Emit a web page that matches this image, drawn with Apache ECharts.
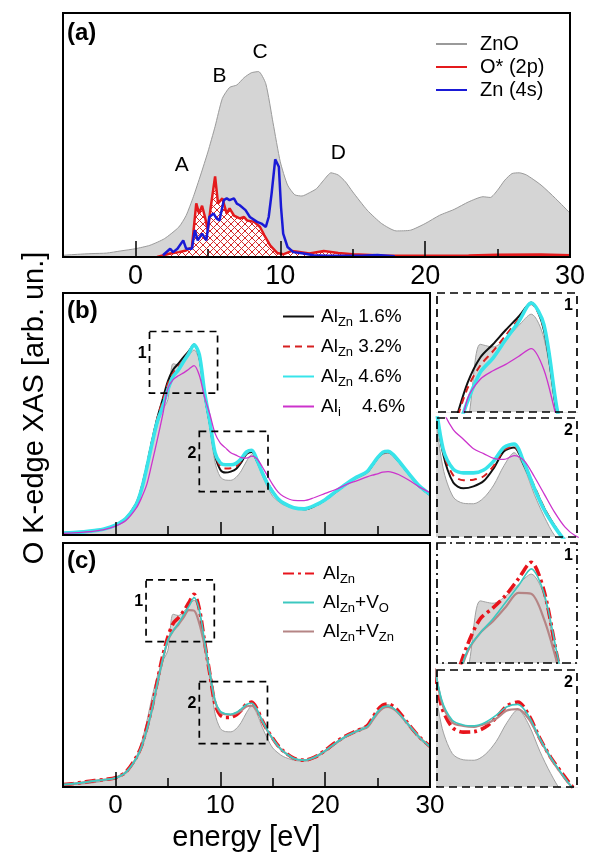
<!DOCTYPE html>
<html>
<head>
<meta charset="utf-8">
<script src="https://cdn.jsdelivr.net/npm/echarts@6/dist/echarts.min.js"></script>
<style>
  html, body { margin: 0; padding: 0; background: #fff; }
  #chart { width: 595px; height: 855px; }
</style>
</head>
<body>
<div id="chart"></div>
<script>
var FONT = '"Liberation Sans", Arial, Helvetica, sans-serif';

// ---- panel (a) data ----
var aEnergy = [-5,-4,-3,-2,-1,0,1,2,3,3.5,4,4.5,5,5.5,6,6.5,7,7.5,8,8.5,9,9.5,10,10.5,11,11.5,12,12.5,13,13.5,14,14.5,15,16,17,18,19,20,21,22,23,24,24.5,25,25.5,26,26.5,27,28,29,30];
var aZnO = [0.7,1.1,1.4,1.6,2.5,3.4,4.8,7.5,12.3,17,24.7,33.6,43,53.5,65,69.5,70.5,73.5,75.5,76,71,55,39,29.5,25.5,25,26.3,28,31.5,34.5,33.6,30.8,26.7,19.2,13.7,10.7,11,13.7,17.1,19.5,22.6,24.7,24.4,27.4,31.5,34.2,34.5,33.6,29.5,24,18];
var o2pEnergy = [1.5,2.4,3.0,3.5,3.9,4.2,4.4,4.6,4.8,5.0,5.2,5.5,5.7,6.0,6.3,6.5,6.8,7.2,7.5,7.7,8.2,8.6,8.9,9.3,9.8,10.2,10.8,11.2,12,13,14,15,17,20,23,25,28,30];
var o2p = [0,1.4,2,2.7,4,22,17.8,21,16.4,11,20.5,33,22,24,17.8,19.9,17,15.8,16.4,15,14.4,12.3,8.9,4.8,1.6,1.1,2.5,2.2,1.4,2.5,1.6,1.1,0.6,0.5,0.6,0.9,1.0,0.7];
var zn4sEnergy = [1.9,2.4,2.6,2.9,3.3,3.5,3.9,4.1,4.3,4.6,4.9,5.1,5.4,5.6,5.8,6.1,6.3,6.5,6.8,7.0,7.2,7.6,7.9,8.4,8.7,9.0,9.2,9.4,9.65,9.9,10.05,10.2,10.5,10.9,11.6,12.3,13.2,15.6,16.7,17.9];
var zn4s = [0.7,3.4,2,3.4,6.8,3.4,3.4,11,6.8,9.6,6.8,16.4,17.8,15.8,15,23.3,24,23.3,24,21.9,21.2,19.2,16.4,14.4,13.7,12.3,16.4,26,40,37,20.5,9.6,4.1,2,1.4,0.7,0.5,0.5,0.8,0.3];
var peakNames = ['A','B','C','D'];
var peakE = [3.2, 5.8, 8.6, 14.0];
var peakY = [37.7, 74, 84, 42.7];

// ---- panels (b), (c) data ----
var energy = [-5,-4,-3,-2,-1,0,1,2,2.5,3,3.5,4,4.5,5,5.5,6,6.5,7,7.5,8,8.5,9,9.5,10,10.5,11,11.5,12,12.5,13,13.5,14,14.5,15,15.5,16,17,18,19,20,21,22,23,24,24.5,25,25.5,26,26.5,27,28,29,30];
var zno = [0.8,1.0,1.3,1.8,2.6,4.0,6.5,12.5,18.5,27,37,45.5,51.5,56,70.8,70.3,71.8,74.3,76.5,72,57.5,44.5,30,24,22.7,22.6,23.8,26.5,30.5,33.2,30,24.5,19.8,16,14,12.5,11,10.5,11.8,14.3,17.5,20.5,23.3,25.5,28.3,31.3,33.3,33.8,32.5,30,24.8,19.6,16.3];
var alZn16 = [0.8,1.0,1.3,1.8,2.6,4.1,6.9,13.1,19.5,28.5,39,48.5,56,63.5,68.3,70.8,73.5,76,78.7,73.5,58,46,33,27,25.8,26.2,27.3,30,33.5,34.3,30.5,26,21.5,18,15,13.3,11.3,10.6,12,14.5,17.8,21,23.8,26,28.8,31.8,33.8,34.3,33,30.5,25.2,20,16.6];
var alZn32 = [0.8,1.0,1.3,1.8,2.6,4.1,6.9,13.3,19.8,29,39.2,48.3,55.5,62.5,66.8,69.5,72.5,75.5,78.4,73.8,58.3,46.3,33.5,28.5,27.5,27.6,28.3,30.5,33.8,34.5,30.8,26.2,21.6,18,15,13.3,11.3,10.7,12,14.5,17.8,21,23.8,26,28.8,31.8,33.8,34.3,33,30.5,25.2,20,16.6];
var alZn46 = [0.8,1.0,1.3,1.8,2.6,4.1,6.8,12.8,19,28,38,47,53,60,65.5,68.2,71.7,75,78.6,74.5,59,47,34,29.8,29,29,29.6,31.5,34.3,35,31,25.8,21.2,17.8,15,13.3,11.3,10.8,12.2,14.6,17.9,21.1,23.9,26.2,29,32,34.2,34.6,33.2,30.7,25.3,20.2,16.8];
var alI46 = [0.7,0.9,1.2,1.6,2.3,3.7,6.0,11.2,15.5,21,30,39.5,49.5,60.5,64.2,65.8,67,68.5,70,66,57,50,42,38,36,34,33,32,31.8,32.6,31.5,28.2,24.5,20.8,17.8,16,14.3,14.2,15.5,17.2,18.8,20.8,22.4,24,24.7,25.3,26,26.2,25.8,25,22.6,19.8,17.5];
var alZn = [1.0,1.4,2.0,2.6,3.1,3.8,6.2,12.3,17,24.5,33,43.5,53.5,61.5,67,69.3,72,75.5,79,73,59.5,46.5,34,29.5,28.5,28.6,29.5,31.5,34,34.8,32,27.2,23.2,20,17,14.8,11.8,11,12.2,15,18.3,21,23,25,28.2,31.5,33.6,34,33,31,25.5,20.5,16.7];
var alZnVO = [1.0,1.4,1.9,2.5,3.0,3.7,6.0,11.8,16.5,23.5,32,42.5,52,60.3,64,67,70.5,74,77.6,72.5,60,47,35.5,31,30,29.8,30.5,32,33.8,34.3,31.8,27.2,23.2,19.8,16.8,14.6,11.7,11,12.2,14.8,18,20.8,22.8,24.7,27.6,30.7,32.8,33.2,32.3,30.3,25.2,20.3,16.4];
var alZnVZn = [1.0,1.4,1.9,2.5,3.0,3.7,6.0,11.8,16.5,23.5,32,42.5,52,60,64,66.5,69.5,72.5,72.3,67,58,47,35,30.5,29.8,29.6,30.2,31.3,33,33.3,31.2,27,23,19.7,16.8,14.6,11.7,11,12.2,14.8,18,20.8,22.8,24.5,27.2,30.2,32.3,32.8,32,30.2,25.3,20.4,16.6];

// zoom windows: [xmin, xmax, ymin, ymax]
var bBox1 = [3.25, 9.74, 58.6, 84.1];
var bBox2 = [8.0, 14.55, 17.9, 42.8];
var cBox1 = [2.92, 9.43, 59.6, 84.9];
var cBox2 = [8.0, 14.5, 17.8, 43.2];
var bInset1 = [3.8, 9.3, 58, 80.5];
var bInset2 = [9.2, 16.1, 15.7, 40.4];
var cInset1 = [3.8, 9.3, 57.6, 83.1];
var cInset2 = [9.3, 15.7, 17, 41.5];

var majorTicks = [0, 10, 20, 30];
var minorTicks = [5, 15, 25];

function pairs(xs, ys) {
    return xs.map(function (x, i) { return [x, ys[i]]; });
}

// cross hatch for the O* (2p) area
var hatch = document.createElement('canvas');
hatch.width = 7; hatch.height = 7;
var hc = hatch.getContext('2d');
hc.fillStyle = '#ffffff';
hc.fillRect(0, 0, 7, 7);
hc.strokeStyle = '#d42a2a';
hc.lineWidth = 1;
hc.beginPath();
hc.moveTo(0, 0); hc.lineTo(7, 7);
hc.moveTo(7, 0); hc.lineTo(0, 7);
hc.stroke();

var chart = echarts.init(document.getElementById('chart'));

var frame = { show: true, borderColor: '#000', borderWidth: 2, z: 10 };
var grids = [
    Object.assign({ left: 63, top: 13, width: 507, height: 244 }, frame),
    Object.assign({ left: 63, top: 293, width: 367, height: 242 }, frame),
    Object.assign({ left: 63, top: 543, width: 367, height: 244 }, frame),
    { left: 437, top: 293, width: 140, height: 119 },
    { left: 437, top: 418, width: 140, height: 119 },
    { left: 437, top: 543, width: 140, height: 120 },
    { left: 437, top: 670, width: 140, height: 117 }
];

function tickAxis(g, ticks, len, withLine, labels) {
    return {
        gridIndex: g, type: 'value', min: -5, max: 30, position: 'bottom', z: 10,
        axisLine: { show: withLine, onZero: false, lineStyle: { color: '#000', width: 2 } },
        axisTick: { show: true, inside: true, length: len, customValues: ticks, lineStyle: { color: '#000', width: 1.5 } },
        axisLabel: labels ? { customValues: majorTicks, color: '#000', fontSize: labels, fontFamily: FONT, margin: 6 } : { show: false },
        splitLine: { show: false }
    };
}
function insetAxes(g, r) {
    return [
        { gridIndex: g, type: 'value', min: r[0], max: r[1], show: false },
        { gridIndex: g, type: 'value', min: r[2], max: r[3], show: false }
    ];
}

var xAxes = [
    tickAxis(0, minorTicks, 8, true, 27),
    tickAxis(0, majorTicks, 16, false, 0),
    tickAxis(1, minorTicks, 9, true, 0),
    tickAxis(1, majorTicks, 13, false, 0),
    tickAxis(2, minorTicks, 9, true, 26),
    tickAxis(2, majorTicks, 15, false, 0)
];
xAxes[4].name = 'energy [eV]';
xAxes[4].nameLocation = 'middle';
xAxes[4].nameGap = 36;
xAxes[4].nameTextStyle = { fontSize: 29, fontFamily: FONT, color: '#000' };

var yAxes = [
    { gridIndex: 0, type: 'value', min: 0, max: 100, show: false },
    { gridIndex: 1, type: 'value', min: 0, max: 100, show: false },
    { gridIndex: 2, type: 'value', min: 0, max: 100, show: false }
];
[[3, bInset1], [4, bInset2], [5, cInset1], [6, cInset2]].forEach(function (p) {
    var ax = insetAxes(p[0], p[1]);
    xAxes.push(ax[0]);
    yAxes.push(ax[1]);
});

function line(name, xi, yi, data, color, width, type, extra) {
    return Object.assign({
        name: name, type: 'line', xAxisIndex: xi, yAxisIndex: yi,
        data: data, symbol: 'none', smooth: 0.3, silent: true, animation: false,
        itemStyle: { color: color },
        lineStyle: { color: color, width: width, type: type || 'solid' }
    }, extra || {});
}
function grayFill(xi, yi, data, lineColor) {
    return line('ZnO', xi, yi, data, lineColor, 1, 'solid', {
        areaStyle: { color: '#d5d5d5', opacity: 1, origin: 'start' }
    });
}

// dashed rectangles drawn from data coordinates, on their own empty series so they sit above the fills
function boxSeries(xi, yi, boxes, labels, dash, labelPos, align) {
    return {
        type: 'line', xAxisIndex: xi, yAxisIndex: yi, data: [], clip: false, silent: true, animation: false, z: 6,
        markArea: {
            silent: true, z: 12,
            itemStyle: { color: 'rgba(0,0,0,0)', borderColor: '#000', borderWidth: 1.7, borderType: dash },
            label: { show: true, position: labelPos, align: align, color: '#000', fontSize: 16, fontWeight: 'bold', fontFamily: FONT },
            data: boxes.map(function (b, i) {
                return [{ name: labels[i], coord: [b[0], b[3]] }, { coord: [b[1], b[2]] }];
            })
        }
    };
}

var bSet = [
    ['AlZn 1.6%', alZn16, '#111111', 2, 'solid'],
    ['AlZn 3.2%', alZn32, '#d62020', 2, [7, 5]],
    ['AlZn 4.6%', alZn46, '#38e4ea', 3.6, 'solid'],
    ['Ali 4.6%', alI46, '#cc33cc', 1.3, 'solid']
];
var cSet = [
    ['AlZn', alZn, '#e8141c', 3.6, [11, 4, 3, 4]],
    ['AlZn+VZn', alZnVZn, '#b58585', 2.2, 'solid'],
    ['AlZn+VO', alZnVO, '#3cc8c0', 1.6, 'solid']
];

var series = [];
// (a)
var aGray = grayFill(0, 0, pairs(aEnergy, aZnO), '#9a9a9a');
aGray.smooth = 0.2;
aGray.markPoint = {
    symbol: 'circle', symbolSize: 0, silent: true,
    label: { show: true, position: 'inside', formatter: '{b}', color: '#000', fontSize: 21, fontFamily: FONT },
    data: peakNames.map(function (n, i) { return { name: n, coord: [peakE[i], peakY[i]] }; })
};
series.push(aGray);
series.push(line('O* (2p)', 0, 0, pairs(o2pEnergy, o2p), '#e41a1c', 2.5, 'solid', {
    smooth: false, areaStyle: { color: { image: hatch, repeat: 'repeat' }, opacity: 1 }
}));
series.push(line('Zn (4s)', 0, 0, pairs(zn4sEnergy, zn4s), '#1a1ad6', 2.5, 'solid', { smooth: false }));

// (b) main + insets
series.push(grayFill(2, 1, pairs(energy, zno), '#a0a0a0'));
bSet.forEach(function (s) { series.push(line(s[0], 2, 1, pairs(energy, s[1]), s[2], s[3], s[4])); });
series.push(boxSeries(2, 1, [bBox1, bBox2], ['1', '2'], [7, 5], [-2, 15], 'right'));
[[6, 3], [7, 4]].forEach(function (p) {
    series.push(grayFill(p[0], p[1], pairs(energy, zno), '#a0a0a0'));
    bSet.forEach(function (s) { series.push(line(s[0], p[0], p[1], pairs(energy, s[1]), s[2], s[3], s[4])); });
});
series.push(boxSeries(6, 3, [bInset1], ['1'], [8, 5], 'insideTopRight'));
series.push(boxSeries(7, 4, [bInset2], ['2'], [8, 5], 'insideTopRight'));

// (c) main + insets
series.push(grayFill(4, 2, pairs(energy, zno), '#a0a0a0'));
cSet.forEach(function (s) { series.push(line(s[0], 4, 2, pairs(energy, s[1]), s[2], s[3], s[4])); });
series.push(boxSeries(4, 2, [cBox1, cBox2], ['1', '2'], [7, 5], [-2, 15], 'right'));
[[8, 5], [9, 6]].forEach(function (p) {
    series.push(grayFill(p[0], p[1], pairs(energy, zno), '#a0a0a0'));
    cSet.forEach(function (s) { series.push(line(s[0], p[0], p[1], pairs(energy, s[1]), s[2], s[3], s[4])); });
});
series.push(boxSeries(8, 5, [cInset1], ['1'], [9, 4, 2, 4], 'insideTopRight'));
series.push(boxSeries(9, 6, [cInset2], ['2'], [8, 5], 'insideTopRight'));

var legendText = {
    'AlZn 1.6%': 'Al{s|Zn} 1.6%',
    'AlZn 3.2%': 'Al{s|Zn} 3.2%',
    'AlZn 4.6%': 'Al{s|Zn} 4.6%',
    'Ali 4.6%': 'Al{s|i}    4.6%',
    'AlZn': 'Al{s|Zn}',
    'AlZn+VO': 'Al{s|Zn}+V{s|O}',
    'AlZn+VZn': 'Al{s|Zn}+V{s|Zn}'
};
var legendRich = { s: { fontSize: 13, fontFamily: FONT, color: '#000', padding: [12, 0, 0, 0] } };
function legendBox(left, top, names, size, gap, pad) {
    return {
        orient: 'vertical', left: left, top: top, itemWidth: 31, itemHeight: 14, itemGap: gap,
        selectedMode: false, data: names,
        itemStyle: { opacity: 0 },
        formatter: function (n) { return legendText[n] || n; },
        textStyle: { fontSize: size, fontFamily: FONT, color: '#000', padding: [0, 0, 0, pad], rich: legendRich }
    };
}

var option = {
    animation: false,
    backgroundColor: '#fff',
    grid: grids,
    xAxis: xAxes,
    yAxis: yAxes,
    legend: [
        legendBox(430, 29, ['ZnO', 'O* (2p)', 'Zn (4s)'], 20, 3, 8),
        legendBox(277, 302, ['AlZn 1.6%', 'AlZn 3.2%', 'AlZn 4.6%', 'Ali 4.6%'], 19, 8, 2),
        legendBox(277, 559, ['AlZn', 'AlZn+VO', 'AlZn+VZn'], 19, 7, 4)
    ],
    graphic: [
        { type: 'text', x: 35, y: 408, rotation: Math.PI / 2,
          style: { text: 'O K-edge XAS [arb. un.]', font: '29px ' + FONT, fill: '#000', align: 'center', verticalAlign: 'middle' } },
        { type: 'text', x: 67, y: 33, style: { text: '(a)', font: 'bold 24px ' + FONT, fill: '#000', verticalAlign: 'middle' } },
        { type: 'text', x: 67, y: 311, style: { text: '(b)', font: 'bold 24px ' + FONT, fill: '#000', verticalAlign: 'middle' } },
        { type: 'text', x: 67, y: 561, style: { text: '(c)', font: 'bold 24px ' + FONT, fill: '#000', verticalAlign: 'middle' } }
    ],
    series: series
};

chart.setOption(option);
</script>
</body>
</html>
